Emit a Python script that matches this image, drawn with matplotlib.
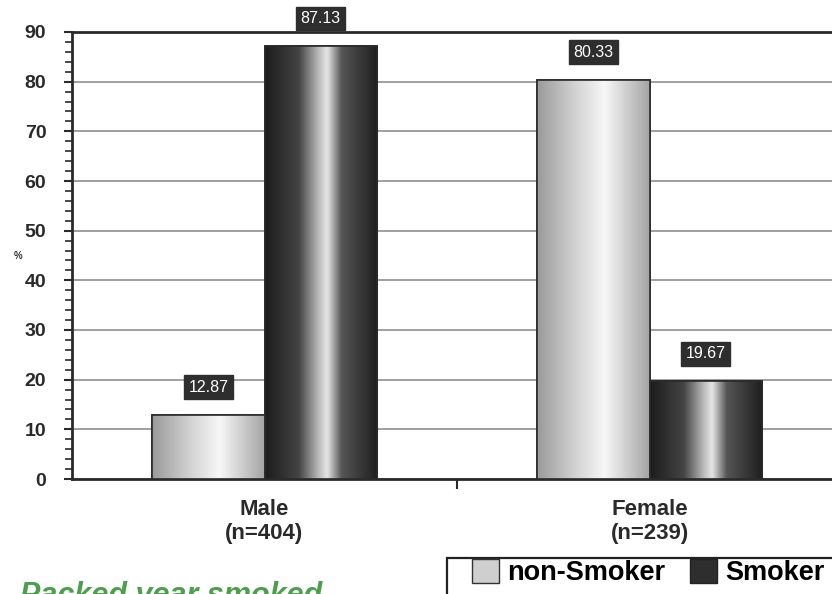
import matplotlib
matplotlib.use("Agg")
import matplotlib.pyplot as plt
import numpy as np
from matplotlib.colors import LinearSegmentedColormap
from matplotlib.patches import Patch, Rectangle

plt.rcParams['font.family'] = ['Liberation Sans', 'DejaVu Sans']

categories = ["Male\n(n=404)", "Female\n(n=239)"]
series_names = ["non-Smoker", "Smoker"]
non_smoker = [12.87, 80.33]
smoker = [87.13, 19.67]

W, H = 832, 594
fig = plt.figure(figsize=(W / 100, H / 100), dpi=100)
fig.patch.set_facecolor('white')
ax = fig.add_axes([72 / W, 1 - 479 / H, 770 / W, 447 / H])

x = np.arange(len(categories))
bw = 0.292
b1 = ax.bar(x - bw / 2, non_smoker, bw, color='#d0d0d0', edgecolor='#333333', linewidth=1.2, zorder=3)
b2 = ax.bar(x + bw / 2, smoker, bw, color='#404040', edgecolor='#222222', linewidth=1.2, zorder=3)

cm_light = LinearSegmentedColormap.from_list('l', [(0, '#9a9a9a'), (0.35, '#d4d4d4'), (0.6, '#f7f7f7'), (1, '#a4a4a4')])
cm_dark = LinearSegmentedColormap.from_list('d', [(0, '#1c1c1c'), (0.3, '#444444'), (0.48, '#bdbdbd'), (0.55, '#e6e6e6'), (0.68, '#555555'), (1, '#1e1e1e')])
grad = np.linspace(0, 1, 256).reshape(1, -1)
for bars, cm in ((b1, cm_light), (b2, cm_dark)):
    for p in bars:
        x0, w, h = p.get_x(), p.get_width(), p.get_height()
        im = ax.imshow(grad, cmap=cm, extent=(x0, x0 + w, 0, h), aspect='auto', zorder=3.5, interpolation='bicubic')
        im.set_clip_path(p)
        ax.add_patch(Rectangle((x0, 0), w, h, fill=False, edgecolor='#2a2a2a', linewidth=1.2, zorder=4))

for bars in (b1, b2):
    for p in bars:
        v = p.get_height()
        ax.annotate(f"{v:.2f}", (p.get_x() + p.get_width() / 2, v), xytext=(0, 20), textcoords='offset points',
                    ha='center', va='center', color='white', fontsize=11.5, zorder=6, annotation_clip=False,
                    bbox=dict(boxstyle='square,pad=0.28', fc='#2e2e2e', ec='#2e2e2e'))

ax.set_xlim(-0.5, 1.5)
ax.set_ylim(0, 90)
ax.set_yticks(np.arange(0, 91, 10))
ax.set_yticks(np.arange(0, 91, 2), minor=True)
ax.yaxis.grid(True, color='#a0a0a0', linewidth=1.4, zorder=0)
ax.set_axisbelow(True)
for t in ax.get_yticklabels():
    t.set_fontweight('bold')
ax.tick_params(axis='y', which='major', length=5.5, width=1.5, labelsize=14, labelcolor='#2a2a2a', color='#2a2a2a', pad=13)
ax.tick_params(axis='y', which='minor', length=5, width=1.2, color='#2a2a2a')

ax.set_xticks([0.5])
ax.set_xticklabels([''])
ax.tick_params(axis='x', length=7, width=1.5, color='#2a2a2a')
for i, c in enumerate(categories):
    ax.annotate(c, (x[i], 0), xycoords=('data', 'axes fraction'), xytext=(0, -30.5), textcoords='offset points',
                ha='center', va='center', fontsize=16, fontweight='bold', color='#2a2a2a', linespacing=1.2)

for s in ['left', 'bottom', 'top']:
    ax.spines[s].set_color('#2a2a2a')
    ax.spines[s].set_linewidth(2)
ax.spines['right'].set_visible(False)

fig.text(18 / W, 1 - 256 / H, "%", ha='center', va='center', fontsize=7, fontweight='bold', color='#333333')

# legend frame (extends past the page edge as in the reference)
fig.patches.append(Rectangle((447 / W, 1 - 610 / H), 400 / W, 52 / H, transform=fig.transFigure,
                             fill=True, facecolor='white', edgecolor='#222222', linewidth=1.6, zorder=5))
handles = [Patch(facecolor='#cfcfcf', edgecolor='#333333'), Patch(facecolor='#2e2e2e', edgecolor='#222222')]
leg = fig.legend(handles, series_names, loc='upper left', bbox_to_anchor=(472 / W, 1 - 559 / H), ncol=2,
                 frameon=False, prop={'weight': 'bold', 'size': 19.5}, borderpad=0, borderaxespad=0,
                 handlelength=1.0, handleheight=1.0, handletextpad=0.3, columnspacing=0.9)
leg.set_zorder(6)

fig.text(20 / W, 1 - 581 / H, "Packed year smoked", ha='left', va='top', fontsize=22, fontweight='bold',
         style='italic', color='#4f9e4f')

fig.savefig("out.png", dpi=100)
